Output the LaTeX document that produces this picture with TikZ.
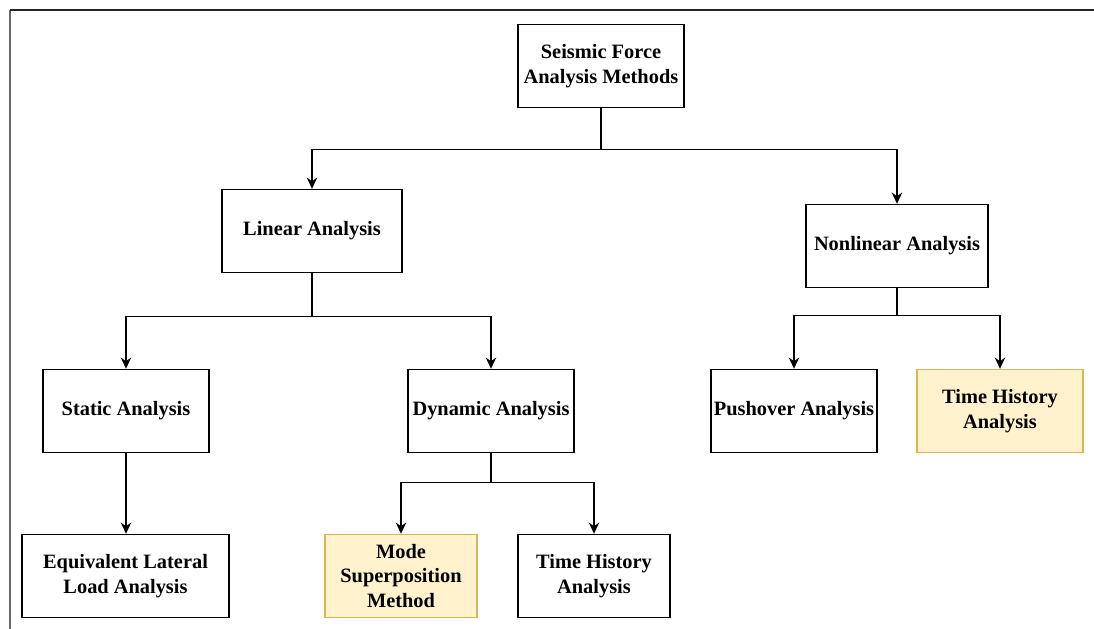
\documentclass[tikz,border=0pt]{standalone}
\usepackage{fontspec}
\setmainfont{Liberation Serif}
\usetikzlibrary{arrows.meta}
\definecolor{noteFill}{HTML}{FFF2CC}
\definecolor{noteLine}{HTML}{D6B656}

\begin{document}
\begin{tikzpicture}[x=0.025cm, y=-0.025cm, font=\fontsize{14.5}{17.5}\selectfont\bfseries,
	box/.style={draw, line width=1pt, minimum width=4.15cm, minimum height=2.075cm, align=center, inner sep=2pt},
	hibox/.style={box, fill=noteFill, draw=noteLine},
	arr/.style={line width=1pt, -{Stealth[length=2.8mm,width=2.6mm]}}]
	\useasboundingbox (0,0) rectangle (1094,629);
	% frame
	\draw[line width=1.5pt, black!60] (10,629) -- (10,10);
	\draw[line width=1.5pt, black!85] (10,10) -- (1094,10);
	% boxes
	\node[box] (root) at (601,66) {Seismic Force\\Analysis Methods};
	\node[box, minimum width=4.5cm] (lin) at (312,231) {Linear Analysis};
	\node[box, minimum width=4.55cm] (nonlin) at (897,246) {Nonlinear Analysis};
	\node[box] (static) at (126,411) {Static Analysis};
	\node[box] (dyn) at (491,411) {Dynamic Analysis};
	\node[box] (push) at (794,411) {Pushover Analysis};
	\node[hibox] (nlth) at (1000,411) {Time History\\Analysis};
	\node[box, minimum width=5.175cm] (equiv) at (125.5,576) {Equivalent Lateral\\Load Analysis};
	\node[hibox, minimum width=3.8cm] (mode) at (401,576) {Mode\\Superposition\\Method};
	\node[box, minimum width=3.8cm] (lth) at (594,576) {Time History\\Analysis};
	% connectors
	\draw[arr] (root.south) -- ++(0,41) -| (lin.north);
	\draw[arr] (root.south) -- ++(0,41) -| (nonlin.north);
	\draw[arr] (lin.south) -- ++(0,43) -| (static.north);
	\draw[arr] (lin.south) -- ++(0,43) -| (dyn.north);
	\draw[arr] (nonlin.south) -- ++(0,27) -| (push.north);
	\draw[arr] (nonlin.south) -- ++(0,27) -| (nlth.north);
	\draw[arr] (static.south) -- (static.south |- equiv.north);
	\draw[arr] (dyn.south) -- ++(0,29) -| (mode.north);
	\draw[arr] (dyn.south) -- ++(0,29) -| (lth.north);
\end{tikzpicture}
\end{document}
